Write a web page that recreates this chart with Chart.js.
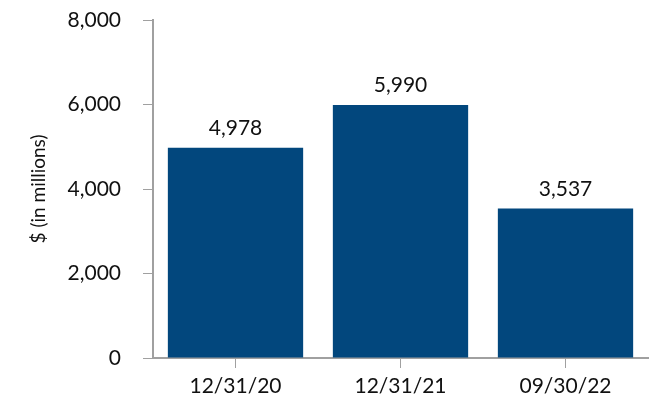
<!DOCTYPE html>
<html>
<head>
<meta charset="utf-8">
<script src="https://cdn.jsdelivr.net/npm/chart.js@4"></script>
<style>
  html, body { margin: 0; padding: 0; background: #fff; }
  #wrap { width: 668px; height: 420px; }
</style>
</head>
<body>
<div id="wrap"><canvas id="chart" width="668" height="420"></canvas></div>
<script>
const categories = ['12/31/20', '12/31/21', '09/30/22'];
const values = [4978, 5990, 3537];
const yTicks = [0, 2000, 4000, 6000, 8000];

const barColor = '#02477d';
const axisColor = '#a0a0a0';
const fontFamily = 'Lato, "Noto Sans", sans-serif';

const valueLabels = {
    id: 'valueLabels',
    afterDatasetsDraw(chart) {
        const ctx = chart.ctx;
        const meta = chart.getDatasetMeta(0);
        ctx.save();
        ctx.fillStyle = '#111';
        ctx.font = '21px ' + fontFamily;
        ctx.textAlign = 'center';
        ctx.textBaseline = 'bottom';
        meta.data.forEach((bar, i) => {
            ctx.fillText(values[i].toLocaleString('en-US'), bar.x, bar.y - 9);
        });
        ctx.restore();
    }
};

new Chart(document.getElementById('chart'), {
    type: 'bar',
    data: {
        labels: categories,
        datasets: [{
            data: values,
            backgroundColor: barColor,
            barPercentage: 0.82,
            categoryPercentage: 1
        }]
    },
    options: {
        responsive: false,
        animation: false,
        layout: { padding: { top: 20, right: 20, left: 0, bottom: 0 } },
        plugins: {
            legend: { display: false },
            tooltip: { enabled: false }
        },
        scales: {
            x: {
                offset: true,
                grid: {
                    offset: false,
                    drawOnChartArea: false,
                    color: axisColor,
                    tickLength: 10
                },
                border: { color: axisColor, width: 2 },
                ticks: {
                    color: '#111',
                    font: { family: fontFamily, size: 21 },
                    padding: 6
                },
                afterFit(scale) {
                    scale.height = 62;
                    scale.paddingLeft = 0;
                    scale.paddingRight = 0;
                }
            },
            y: {
                min: 0,
                max: 8000,
                afterBuildTicks(scale) {
                    scale.ticks = yTicks.map(v => ({ value: v }));
                },
                grid: {
                    drawOnChartArea: false,
                    color: axisColor,
                    tickLength: 10
                },
                border: { color: axisColor, width: 2 },
                ticks: {
                    color: '#111',
                    font: { family: fontFamily, size: 21 },
                    padding: 22,
                    callback: v => v.toLocaleString('en-US')
                },
                title: {
                    display: true,
                    text: '$ (in millions)',
                    color: '#111',
                    font: { family: fontFamily, size: 19 },
                    padding: { top: 27, bottom: 0 }
                },
                afterFit(scale) {
                    scale.width = 153;
                    scale.paddingTop = 0;
                    scale.paddingBottom = 0;
                }
            }
        }
    },
    plugins: [valueLabels]
});
</script>
</body>
</html>
